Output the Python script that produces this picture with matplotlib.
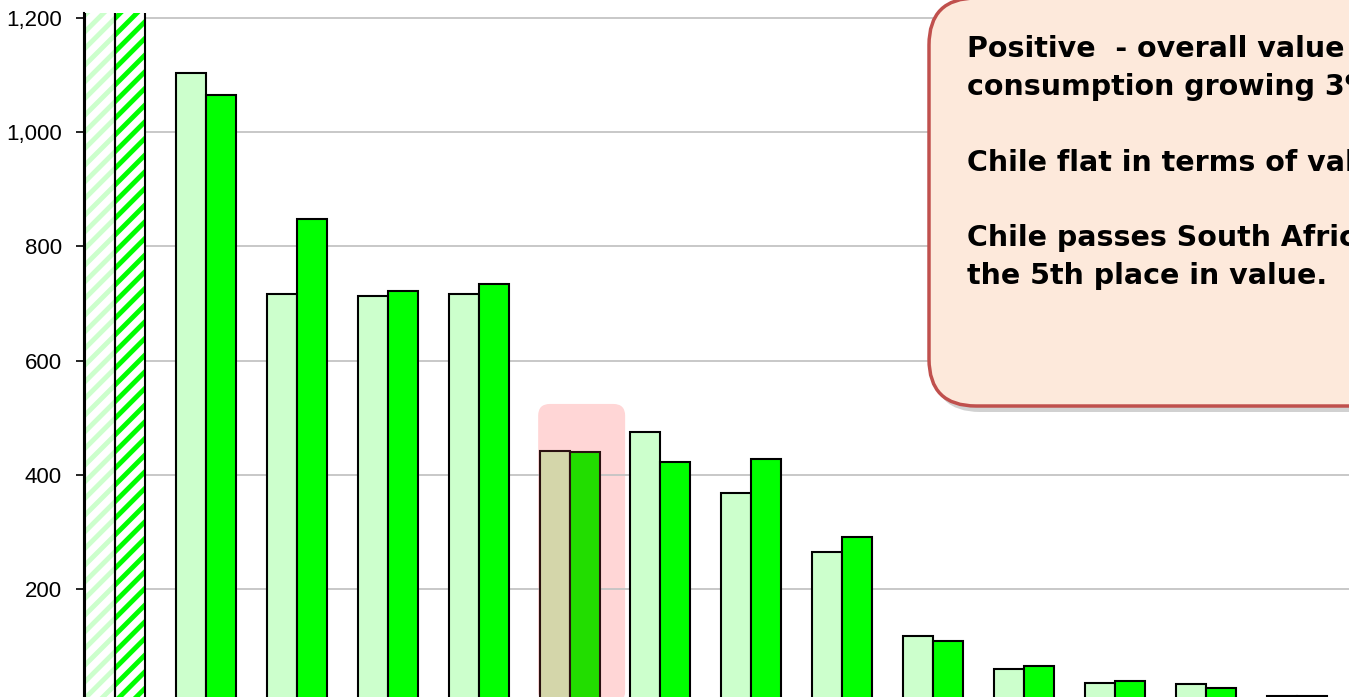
import matplotlib.pyplot as plt
from matplotlib.patches import FancyBboxPatch
from matplotlib.ticker import FuncFormatter
from matplotlib.transforms import IdentityTransform
import numpy as np

# two years per market, value (ranked); first market is off the top of the chart
prev_year = [1650, 1103, 716, 713, 716, 442, 475, 368, 265, 118, 60, 35, 34, 13]
this_year = [1700, 1066, 848, 722, 734, 440, 422, 428, 291, 109, 65, 39, 27, 13]
hatched = [0]
highlight = 5  # Chile
yticks = [200, 400, 600, 800, 1000, 1200]
note = ("Positive  - overall value\nconsumption growing 3%\n\n"
        "Chile flat in terms of value\n\n"
        "Chile passes South Africa for\nthe 5th place in value.")

light = '#ccffcc'
bright = '#00ff00'

plt.rcParams['font.family'] = ['Liberation Sans', 'DejaVu Sans']
plt.rcParams['hatch.linewidth'] = 3.5

fig = plt.figure(figsize=(13.49, 6.97), dpi=100)
ax = fig.add_axes([84 / 1349, -6 / 697, 1 - 84 / 1349, (697 + 6 - 13) / 697])

x = np.arange(len(prev_year))
w = 0.33
for i in x:
    for val, off, col in [(prev_year[i], -w / 2, light), (this_year[i], w / 2, bright)]:
        if i in hatched:
            ax.bar(i + off, val, w, color='white', edgecolor=col, hatch='//', linewidth=0, zorder=2)
            ax.bar(i + off, val, w, fill=False, edgecolor='black', linewidth=1.5, zorder=3)
        elif i == highlight:
            fc = '#d4d6aa' if col == light else '#22dd00'
            ax.bar(i + off, val, w, color=fc, edgecolor='#2a1010', linewidth=1.5, zorder=3)
        else:
            ax.bar(i + off, val, w, color=col, edgecolor='black', linewidth=1.5, zorder=3)

# pink highlight behind Chile
ax.add_patch(FancyBboxPatch((highlight - 0.345, 0), 0.957, 524,
                            boxstyle='round,pad=0,rounding_size=0.13',
                            mutation_aspect=159, facecolor='#ffd6d6',
                            edgecolor='none', zorder=0.2))

ax.set_xlim(-0.341, 13.575)
ax.set_ylim(0, 1209)
ax.set_yticks(yticks)
ax.yaxis.set_major_formatter(FuncFormatter(lambda v, p: f'{int(v):,}'))
ax.tick_params(axis='y', labelsize=16, length=6, width=1.2, pad=10)
ax.tick_params(axis='x', bottom=False, labelbottom=False)
ax.grid(axis='y', color='#c4c4c4', linewidth=1.3, zorder=1)
ax.set_axisbelow(True)
for s in ['top', 'right', 'bottom']:
    ax.spines[s].set_visible(False)
ax.spines['left'].set_linewidth(1.5)

# callout box (pixel coordinates)
shadow = FancyBboxPatch((933, 697 - 412), 520, 412,
                        boxstyle='round,pad=0,rounding_size=47',
                        transform=IdentityTransform(), facecolor='#999999',
                        edgecolor='none', alpha=0.45, zorder=5)
box = FancyBboxPatch((929, 697 - 406), 520, 408,
                     boxstyle='round,pad=0,rounding_size=47',
                     transform=IdentityTransform(), facecolor='#fde9db',
                     edgecolor='#c0504d', linewidth=2.5, zorder=6)
fig.patches.extend([shadow, box])
fig.text(967 / 1349, 1 - 35 / 697, note, fontsize=20.5, fontweight='bold',
         family=['DejaVu Sans'], va='top', ha='left', linespacing=1.45, zorder=7)

fig.savefig('out.png', dpi=100)
